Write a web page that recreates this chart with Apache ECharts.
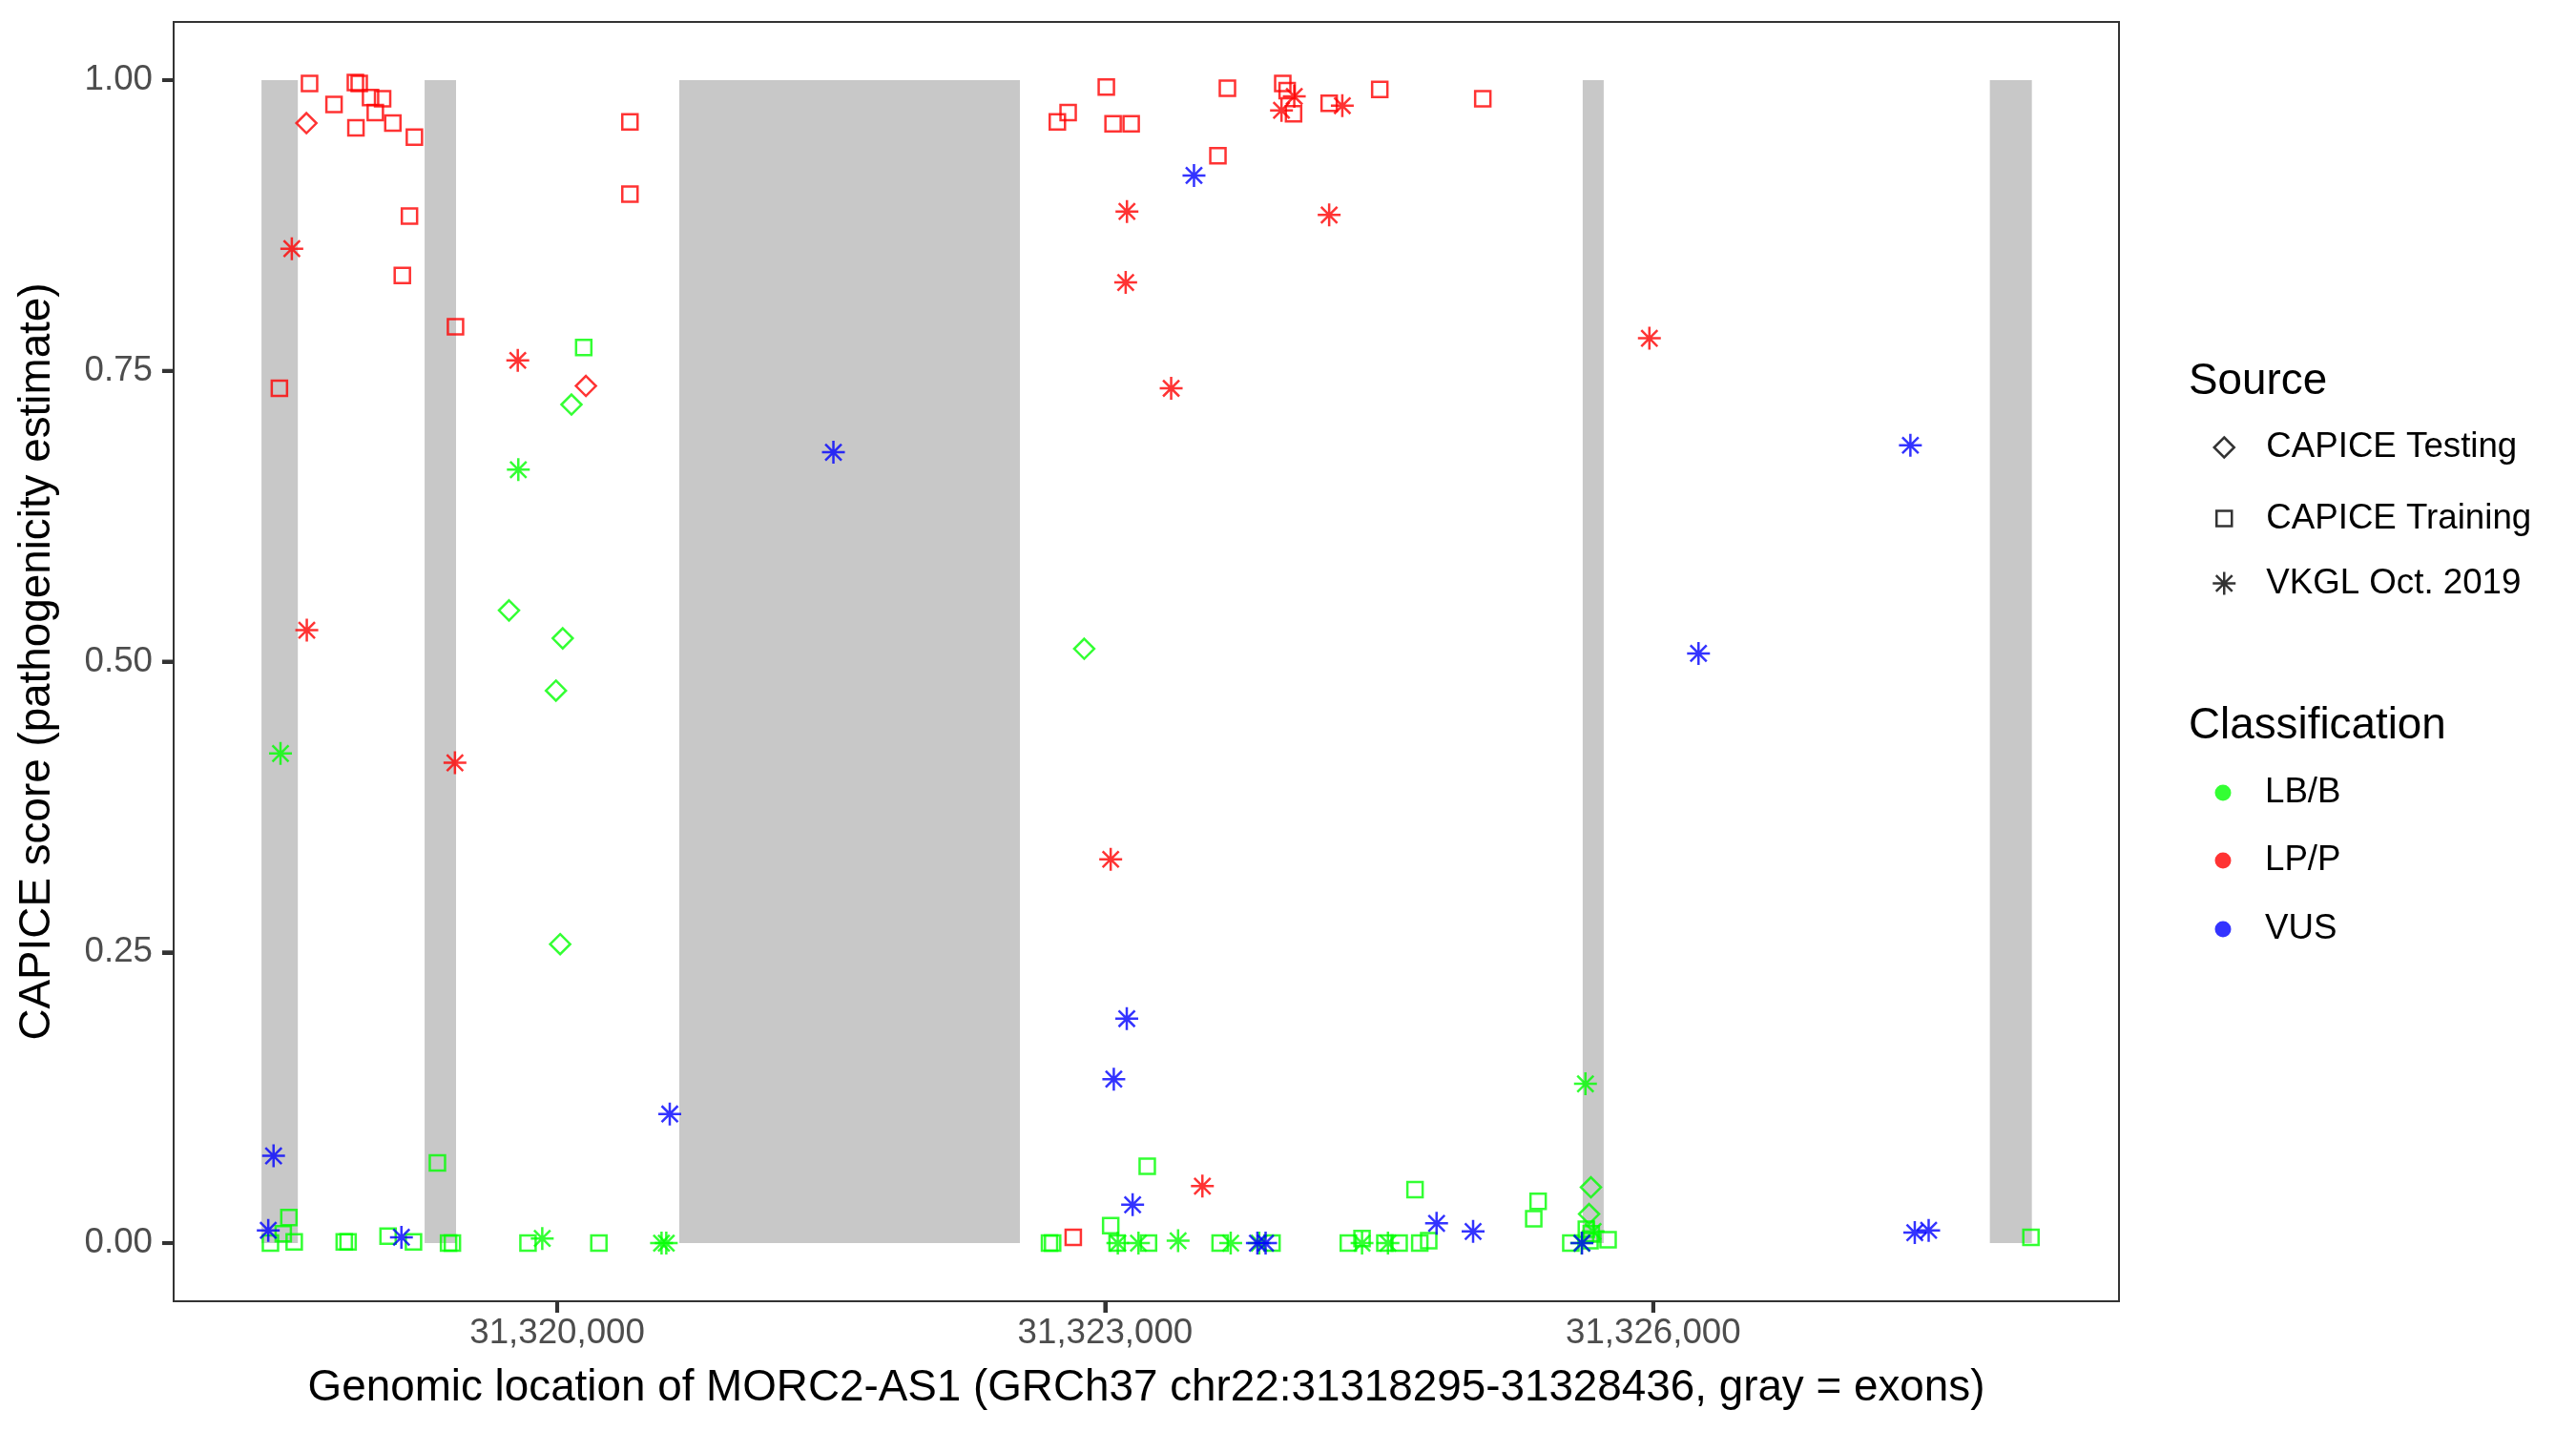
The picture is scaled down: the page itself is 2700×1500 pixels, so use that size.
<!DOCTYPE html>
<html>
<head>
<meta charset="utf-8">
<script src="https://cdn.jsdelivr.net/npm/echarts@6/dist/echarts.min.js"></script>
<style>
html,body{margin:0;padding:0;background:#fff;}
#chart{width:2700px;height:1500px;}
</style>
</head>
<body>
<div id="chart"></div>
<script>
// ---- exons (gray bars) ----
const exonStart = [31318381, 31319274, 31320668, 31325614, 31327843];
const exonEnd   = [31318580, 31319446, 31322533, 31325729, 31328073];
const exonScoreRange = [0, 1];

// ---- axis range and ticks ----
const xRange = [31317900, 31328550];
const yRange = [-0.05, 1.05];
const xTicks = [31320000, 31323000, 31326000];
const yTicks = [0, 0.25, 0.5, 0.75, 1];

// ---- legend labels ----
const sourceNames = ['CAPICE Testing', 'CAPICE Training', 'VKGL Oct. 2019'];
const classNames = ['LB/B', 'LP/P', 'VUS'];

// ---- points: [genomic position, CAPICE score] ----
const testingLBB = [[31320078,0.721],[31319736,0.544],[31320030,0.520],[31319993,0.475],[31320016,0.257],
  [31322885,0.511],[31325659,0.048],[31325649,0.025]];
const testingLPP = [[31318627,0.963],[31320157,0.737]];

const trainingLBB = [[31318531,0.022],[31318500,0.008],[31318430,0.000],[31318560,0.001],[31318834,0.001],
  [31318855,0.001],[31319074,0.006],[31319213,0.001],[31319405,0.000],[31319426,0.000],[31319840,0.000],
  [31320228,0.000],[31319344,0.069],[31320145,0.770],[31322695,0.000],[31322712,0.000],[31323030,0.015],
  [31323230,0.066],[31323065,0.000],[31323237,0.000],[31323629,0.000],[31323913,0.000],[31324331,0.000],
  [31324406,0.004],[31324531,0.000],[31324609,0.000],[31324722,0.000],[31324771,0.002],[31324696,0.046],
  [31325370,0.036],[31325346,0.021],[31325549,0.000],[31325634,0.012],[31325661,0.008],[31325654,0.002],
  [31325753,0.003],[31328068,0.005]];
const trainingLPP = [[31318644,0.997],[31318895,0.998],[31318916,0.997],[31318778,0.979],[31318978,0.985],
  [31319044,0.984],[31319004,0.972],[31318898,0.959],[31319100,0.963],[31319218,0.951],[31320398,0.964],
  [31320398,0.902],[31319191,0.883],[31319152,0.832],[31319443,0.788],[31318479,0.735],[31322738,0.964],
  [31322797,0.972],[31323006,0.994],[31323043,0.9625],[31323142,0.9625],[31323669,0.993],[31323617,0.935],
  [31323972,0.997],[31323996,0.991],[31324031,0.971],[31324226,0.980],[31324503,0.992],[31325067,0.984],
  [31322825,0.005]];

const vkglLBB = [[31319787,0.665],[31318485,0.421],[31319918,0.004],[31320571,0.000],[31320597,0.000],
  [31323069,0.000],[31323182,0.000],[31323399,0.002],[31323687,0.000],[31323843,0.000],[31324406,0.000],
  [31324548,0.000],[31325629,0.137],[31325608,0.000],[31325671,0.010]];
const vkglLPP = [[31318547,0.855],[31319784,0.759],[31318629,0.527],[31319440,0.413],[31323119,0.887],
  [31323112,0.826],[31323361,0.735],[31323030,0.330],[31324035,0.986],[31323965,0.974],[31324298,0.978],
  [31324226,0.884],[31323532,0.049],[31325979,0.778]];
const vkglVUS = [[31321512,0.680],[31323486,0.918],[31318447,0.075],[31318418,0.011],[31319147,0.005],
  [31320616,0.111],[31323150,0.033],[31323118,0.193],[31323047,0.141],[31323833,0.000],[31323878,0.000],
  [31324814,0.017],[31325014,0.010],[31325610,0.000],[31326248,0.507],[31327408,0.686],[31327432,0.009],
  [31327508,0.011]];

// ---- styling ----
const FONT = 'Liberation Sans';
const COL = {'LB/B':'#00FF00','LP/P':'#FF0000','VUS':'#0000FF'};
const STAR = 'path://M0,-1L0,1M-1,0L1,0M-0.707,-0.707L0.707,0.707M-0.707,0.707L0.707,-0.707';
const SHAPE = {
  'CAPICE Testing': {symbol:'diamond', size:21},
  'CAPICE Training': {symbol:'rect', size:16},
  'VKGL Oct. 2019': {symbol:STAR, size:24}
};
const LW = 2.5;
const TICK_LEN = 12;
const TICK_W = 4;
const AXIS_COL = '#333333';

function pts(name, source, cls, data){
  return {
    name: name, type:'scatter', z:3, data:data,
    symbol: SHAPE[source].symbol, symbolSize: SHAPE[source].size,
    itemStyle:{color:'rgba(0,0,0,0)', borderColor:COL[cls], borderWidth:LW},
    emphasis:{disabled:true}, silent:true
  };
}

const series = [];
series.push({
  type:'custom', z:1, silent:true,
  data: exonStart.map((s,i)=>[s, exonEnd[i], exonScoreRange[0], exonScoreRange[1]]),
  encode:{x:[0,1], y:[2,3]},
  renderItem: function(params, api){
    const p1 = api.coord([api.value(0), api.value(3)]);
    const p2 = api.coord([api.value(1), api.value(2)]);
    return {type:'rect', shape:{x:p1[0], y:p1[1], width:p2[0]-p1[0], height:p2[1]-p1[1]},
      style:{fill:'#C8C8C8'}};
  }
});
series.push(pts('t-LBB','CAPICE Testing','LB/B',testingLBB));
series.push(pts('t-LPP','CAPICE Testing','LP/P',testingLPP));
series.push(pts('tr-LBB','CAPICE Training','LB/B',trainingLBB));
series.push(pts('tr-LPP','CAPICE Training','LP/P',trainingLPP));
series.push(pts('v-LBB','VKGL Oct. 2019','LB/B',vkglLBB));
series.push(pts('v-LPP','VKGL Oct. 2019','LP/P',vkglLPP));
series.push(pts('v-VUS','VKGL Oct. 2019','VUS',vkglVUS));

// dummy series for legends
sourceNames.forEach(n=>series.push({name:n, type:'scatter', data:[], symbol:SHAPE[n].symbol, symbolSize:SHAPE[n].size,
  itemStyle:{color:'rgba(0,0,0,0)', borderColor:'#000', borderWidth:LW}}));
classNames.forEach(n=>series.push({name:n, type:'scatter', data:[], symbol:'circle', symbolSize:17,
  itemStyle:{color:COL[n]}}));

const LEG_X = 2330, TEXT_X = 2374;
function legendItem(name, icon, size, cy, style){
  return {
    show:true, orient:'vertical', left: LEG_X - size/2, top: cy - size/2, padding:0,
    itemWidth:size, itemHeight:size, selectedMode:false,
    data:[{name:name, icon:icon, itemStyle:style}],
    textStyle:{fontFamily:FONT, fontSize:36.7, color:'#000', lineHeight:size,
      padding:[0,0,0, TEXT_X - (LEG_X + size/2 + 5)]}
  };
}
const outline = {color:'rgba(0,0,0,0)', borderColor:'#000', borderWidth:LW};
const sourceY = [461, 533, 605];
const classY = [821, 892, 964];
const legends = [];
sourceNames.forEach((n,i)=>legends.push(legendItem(n, SHAPE[n].symbol, SHAPE[n].size, sourceY[i], outline)));
classNames.forEach((n,i)=>legends.push(legendItem(n, 'circle', 17, classY[i], {color:COL[n], borderWidth:0})));

const axisLineStyle = {show:true, onZero:false, lineStyle:{color:AXIS_COL, width:2}};
const baseGraphic = [
  {id:'t-source', type:'text', x:2294, y:400, style:{text:'Source', fontFamily:FONT, fontSize:45.8, fill:'#000', verticalAlign:'middle', align:'left'}},
  {id:'t-class', type:'text', x:2294, y:761, style:{text:'Classification', fontFamily:FONT, fontSize:45.8, fill:'#000', verticalAlign:'middle', align:'left'}}
];
const option = {
  animation:false,
  backgroundColor:'#fff',
  grid:{left:182, top:23, right:479, bottom:136, show:true, borderColor:AXIS_COL, borderWidth:2, backgroundColor:'#fff'},
  xAxis:{
    type:'value', min:xRange[0], max:xRange[1],
    name:'Genomic location of MORC2-AS1 (GRCh37 chr22:31318295-31328436, gray = exons)',
    nameLocation:'middle', nameGap:68,
    nameTextStyle:{fontFamily:FONT, fontSize:45.8, color:'#000'},
    axisLine:axisLineStyle,
    axisTick:{show:true, inside:false, length:TICK_LEN, lineStyle:{color:AXIS_COL, width:TICK_W}, customValues:xTicks},
    axisLabel:{show:true, margin:15, fontFamily:FONT, fontSize:36.7, color:'#4D4D4D', customValues:xTicks,
      formatter:v=>Number(v).toLocaleString('en-US')},
    splitLine:{show:false}
  },
  yAxis:{
    type:'value', min:yRange[0], max:yRange[1],
    name:'CAPICE score (pathogenicity estimate)',
    nameLocation:'middle', nameGap:120, nameRotate:90,
    nameTextStyle:{fontFamily:FONT, fontSize:45.8, color:'#000'},
    axisLine:axisLineStyle,
    axisTick:{show:true, inside:false, length:TICK_LEN, lineStyle:{color:AXIS_COL, width:TICK_W}, customValues:yTicks},
    axisLabel:{show:true, margin:22, fontFamily:FONT, fontSize:36.7, color:'#4D4D4D', customValues:yTicks,
      formatter:v=>Number(v).toFixed(2)},
    splitLine:{show:false}
  },
  legend: legends,
  graphic: baseGraphic,
  series: series
};
const chart = echarts.init(document.getElementById('chart'), null, {renderer:'canvas'});
chart.setOption(option);

// axis ticks outside the panel, positioned through the axes' own scales
const tickGraphic = [];
xTicks.forEach((v,i)=>{
  const p = chart.convertToPixel({gridIndex:0}, [v, yRange[0]]);
  if (p && isFinite(p[0])) tickGraphic.push({id:'xt'+i, type:'line', z:10, silent:true,
    shape:{x1:p[0], y1:p[1], x2:p[0], y2:p[1]+TICK_LEN}, style:{stroke:AXIS_COL, lineWidth:TICK_W}});
});
yTicks.forEach((v,i)=>{
  const p = chart.convertToPixel({gridIndex:0}, [xRange[0], v]);
  if (p && isFinite(p[1])) tickGraphic.push({id:'yt'+i, type:'line', z:10, silent:true,
    shape:{x1:p[0]-TICK_LEN, y1:p[1], x2:p[0], y2:p[1]}, style:{stroke:AXIS_COL, lineWidth:TICK_W}});
});
chart.setOption({graphic: baseGraphic.concat(tickGraphic)});
</script>
</body>
</html>
